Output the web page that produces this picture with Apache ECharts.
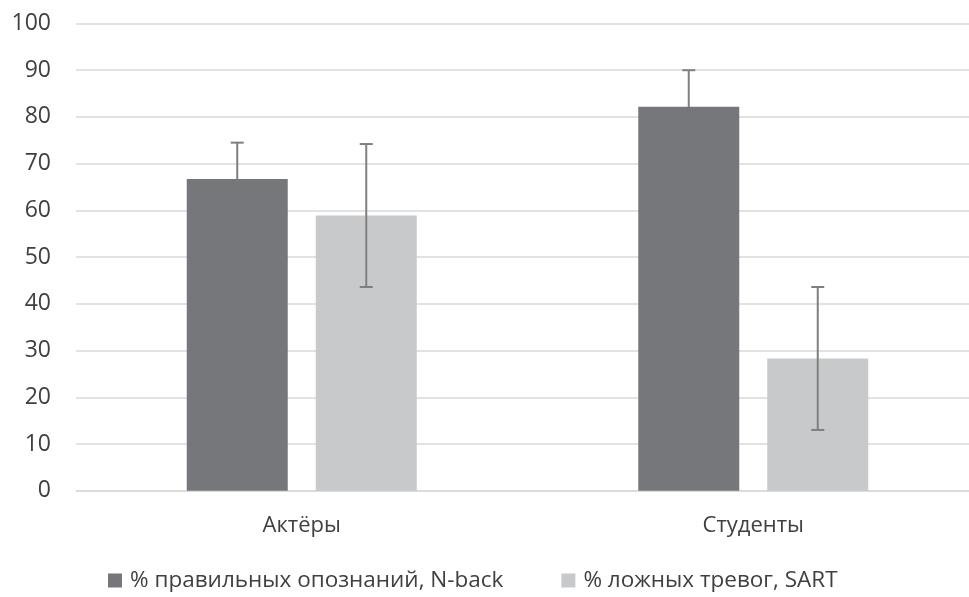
<!DOCTYPE html>
<html><head><meta charset="utf-8">
<script src="https://cdn.jsdelivr.net/npm/echarts@6/dist/echarts.min.js"></script>
<style>html,body{margin:0;padding:0;background:#fff}#c{width:969px;height:597px}</style>
</head><body><div id="c"></div>
<script>
const categories = ["Актёры", "Студенты"];
const seriesNames = ["% правильных опознаний, N-back", "% ложных тревог, SART"];
const nbackValues = [66.7, 82.2];
const nbackErrors = [7.8, 7.8];
const sartValues = [58.9, 28.3];
const sartErrors = [15.3, 15.3];
const yTicks = [0, 10, 20, 30, 40, 50, 60, 70, 80, 90, 100];

const FONT = '"Open Sans", sans-serif';
const BAR_W = 101, GAP_PX = 28;
const chart = echarts.init(document.getElementById('c'));

function errSeries(vals, errs, side, z) {
  return {
    type: 'custom', z: z, silent: true,
    data: vals.map((v, i) => [i, v - errs[i], v + errs[i]]),
    renderItem: function (params, api) {
      const lo = api.coord([api.value(0), api.value(1)]);
      const hi = api.coord([api.value(0), api.value(2)]);
      const x = lo[0] + side * (BAR_W + GAP_PX) / 2;
      const cap = 6.5;
      const st = { stroke: '#7f7f7f', lineWidth: 2, fill: null };
      return { type: 'group', children: [
        { type: 'line', shape: { x1: x, y1: hi[1], x2: x, y2: lo[1] }, style: st },
        { type: 'line', shape: { x1: x - cap, y1: hi[1], x2: x + cap, y2: hi[1] }, style: st },
        { type: 'line', shape: { x1: x - cap, y1: lo[1], x2: x + cap, y2: lo[1] }, style: st }
      ]};
    }
  };
}

chart.setOption({
  animation: false,
  textStyle: { fontFamily: FONT },
  grid: { left: 76, top: 23.5, width: 903, height: 467.2, containLabel: false, outerBoundsMode: 'none' },
  legend: {
    left: 103, top: 564, itemWidth: 14, itemHeight: 14, itemGap: 58,
    icon: 'rect',
    textStyle: { fontFamily: FONT, fontSize: 22.5, color: '#404040', padding: [0, 0, 0, 3] },
    data: seriesNames
  },
  xAxis: {
    type: 'category', data: categories,
    axisLine: { show: true, lineStyle: { color: '#d9d9d9', width: 1.5 } },
    axisTick: { show: false },
    axisLabel: { fontFamily: FONT, fontSize: 22, color: '#404040', margin: 24 }
  },
  yAxis: {
    type: 'value', min: yTicks[0], max: yTicks[yTicks.length - 1], interval: 10,
    axisLine: { show: false }, axisTick: { show: false },
    splitLine: { lineStyle: { color: '#d9d9d9', width: 1.5 } },
    axisLabel: { fontFamily: FONT, fontSize: 23, color: '#404040', margin: 25 }
  },
  series: [
    { name: seriesNames[0], type: 'bar', z: 3, data: nbackValues, barWidth: BAR_W, barGap: (GAP_PX / BAR_W * 100) + '%',
      itemStyle: { color: '#76777b' } },
    { name: seriesNames[1], type: 'bar', z: 3, data: sartValues, barWidth: BAR_W,
      itemStyle: { color: '#c8c9cb' } },
    errSeries(nbackValues, nbackErrors, -1, 2),
    errSeries(sartValues, sartErrors, 1, 5)
  ]
});
</script></body></html>
